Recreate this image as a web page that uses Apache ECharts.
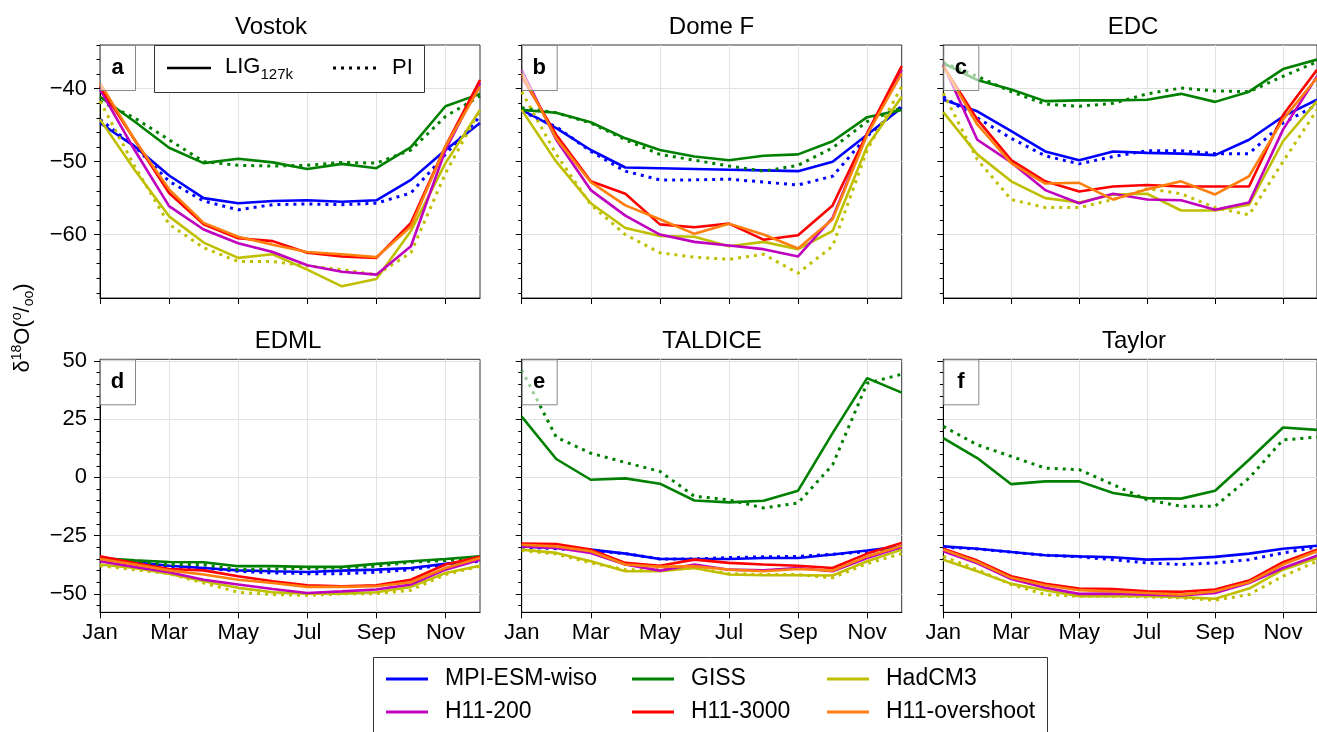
<!DOCTYPE html>
<html>
<head>
<meta charset="utf-8">
<script src="https://cdn.jsdelivr.net/npm/echarts@6/dist/echarts.min.js"></script>
<style>html,body{margin:0;padding:0;background:#fff;}#chart{width:1317px;height:732px;}</style>
</head>
<body>
<div id="chart"></div>
<script>
const months = ['Jan','Feb','Mar','Apr','May','Jun','Jul','Aug','Sep','Oct','Nov','Dec'];
const models = ['MPI-ESM-wiso','GISS','HadCM3','H11-200','H11-3000','H11-overshoot'];
const piModels = ['MPI-ESM-wiso','GISS','HadCM3'];
const stations = ['Vostok','Dome F','EDC','EDML','TALDICE','Taylor'];
const panelLetters = ['a','b','c','d','e','f'];
const topMajorTicks = [-60,-50,-40];
const topMinorTicks = [-68,-66,-64,-62,-60,-58,-56,-54,-52,-50,-48,-46,-44,-42,-40,-38,-36,-34];
const bottomMajorTicks = [-50,-25,0,25,50];
const bottomMinorTicks = [-55,-50,-45,-40,-35,-30,-25,-20,-15,-10,-5,0,5,10,15,20,25,30,35,40,45,50];

// Vostok
const vostokLIG_MPI  = [-44.7,-47.9,-51.9,-55.0,-55.7,-55.4,-55.3,-55.5,-55.3,-52.5,-48.4,-44.7];
const vostokLIG_GISS = [-41.1,-44.5,-48.1,-50.2,-49.6,-50.1,-51.0,-50.3,-50.9,-48.0,-42.4,-40.7];
const vostokLIG_Had  = [-44.2,-51.1,-57.5,-61.1,-63.2,-62.7,-64.8,-67.1,-66.1,-59.5,-50.2,-42.9];
const vostokLIG_H200 = [-40.1,-48.4,-56.1,-59.3,-61.2,-62.4,-64.2,-65.1,-65.5,-61.6,-48.4,-39.2];
const vostokLIG_H3000= [-39.7,-47.0,-54.3,-58.6,-60.5,-60.9,-62.5,-63.0,-63.2,-58.4,-47.9,-38.8];
const vostokLIG_Hover= [-39.2,-47.0,-53.8,-58.4,-60.3,-61.4,-62.4,-62.7,-63.1,-58.9,-47.9,-39.7];
const vostokPI_MPI   = [-44.2,-47.9,-52.7,-55.4,-56.6,-55.9,-55.8,-55.9,-55.7,-54.3,-49.0,-43.8];
const vostokPI_GISS  = [-41.7,-44.0,-47.0,-50.0,-50.5,-50.6,-50.5,-50.1,-50.2,-48.4,-43.8,-41.0];
const vostokPI_Had   = [-41.7,-50.6,-58.6,-61.8,-63.7,-63.7,-64.3,-64.8,-65.5,-62.5,-51.6,-42.9];
// Dome F
const domefLIG_MPI  = [-42.9,-45.4,-48.4,-50.8,-50.9,-51.0,-51.1,-51.2,-51.3,-50.0,-46.3,-42.6];
const domefLIG_GISS = [-42.9,-43.3,-44.6,-46.8,-48.4,-49.3,-49.8,-49.2,-49.0,-47.2,-43.9,-42.9];
const domefLIG_Had  = [-42.9,-50.0,-55.7,-59.1,-60.2,-60.3,-61.6,-61.0,-62.0,-59.5,-47.9,-41.1];
const domefLIG_H200 = [-37.4,-47.0,-53.9,-57.4,-60.0,-61.0,-61.5,-62.0,-63.0,-57.7,-46.1,-37.4];
const domefLIG_H3000= [-38.3,-46.3,-52.7,-54.4,-58.6,-59.0,-58.5,-60.7,-60.1,-56.0,-46.1,-36.9];
const domefLIG_Hover= [-37.9,-46.8,-52.8,-56.0,-57.9,-59.9,-58.5,-60.0,-61.9,-57.9,-46.3,-37.9];
const domefPI_MPI   = [-43.1,-45.2,-48.6,-51.3,-52.5,-52.5,-52.4,-52.8,-53.2,-52.0,-46.5,-42.4];
const domefPI_GISS  = [-42.6,-43.3,-44.7,-47.0,-49.0,-49.8,-50.6,-51.3,-50.5,-48.1,-44.5,-42.6];
const domefPI_Had   = [-40.4,-49.0,-55.9,-60.0,-62.5,-63.1,-63.4,-62.7,-65.3,-61.6,-48.4,-39.7];
// EDC
const edcLIG_MPI  = [-41.5,-43.1,-45.8,-48.6,-49.8,-48.6,-48.8,-48.9,-49.1,-47.0,-43.8,-41.5];
const edcLIG_GISS = [-36.5,-38.8,-40.1,-41.7,-41.6,-41.6,-41.5,-40.7,-41.8,-40.4,-37.3,-36.0];
const edcLIG_Had  = [-43.2,-49.0,-52.7,-55.0,-55.6,-54.5,-54.4,-56.7,-56.7,-55.9,-47.2,-41.7];
const edcLIG_H200 = [-36.7,-47.0,-50.1,-53.9,-55.7,-54.4,-55.2,-55.3,-56.6,-55.6,-45.6,-38.3];
const edcLIG_H3000= [-36.9,-44.2,-49.8,-52.7,-54.1,-53.4,-53.2,-53.4,-53.4,-53.4,-43.6,-37.4];
const edcLIG_Hover= [-36.9,-44.9,-50.2,-53.0,-52.9,-55.2,-53.8,-52.7,-54.5,-52.0,-44.2,-38.5];
const edcPI_MPI   = [-41.1,-44.0,-46.8,-49.2,-50.3,-49.3,-48.5,-48.5,-48.9,-48.9,-44.7,-42.2];
const edcPI_GISS  = [-36.4,-38.3,-40.4,-42.1,-42.4,-42.0,-40.7,-39.9,-40.3,-40.4,-38.3,-36.3];
const edcPI_Had   = [-40.6,-49.7,-55.2,-56.3,-56.3,-55.2,-53.7,-54.4,-56.3,-57.3,-50.0,-42.9];
// EDML
const edmlLIG_MPI  = [-34.6,-36.4,-37.9,-38.9,-39.9,-40.3,-40.6,-40.0,-39.6,-38.9,-37.1,-35.3];
const edmlLIG_GISS = [-34.6,-35.6,-36.3,-36.4,-38.1,-38.1,-38.4,-38.4,-37.1,-36.0,-35.0,-33.9];
const edmlLIG_Had  = [-37.4,-38.9,-41.3,-44.6,-47.4,-49.3,-49.9,-49.9,-49.3,-47.0,-41.0,-37.9];
const edmlLIG_H200 = [-36.0,-38.4,-40.7,-43.9,-46.0,-47.9,-49.6,-48.9,-48.1,-46.0,-39.6,-35.3];
const edmlLIG_H3000= [-33.9,-36.7,-39.3,-39.9,-42.4,-44.6,-46.3,-46.7,-46.3,-43.9,-37.4,-34.1];
const edmlLIG_Hover= [-35.0,-37.4,-39.9,-41.7,-43.9,-45.3,-47.0,-47.0,-46.7,-45.0,-38.9,-34.6];
const edmlPI_MPI   = [-35.0,-36.7,-38.4,-38.9,-40.3,-41.0,-41.3,-41.3,-40.7,-39.6,-37.4,-36.0];
const edmlPI_GISS  = [-35.0,-36.4,-37.4,-37.4,-39.6,-39.3,-39.1,-38.9,-38.1,-36.4,-35.7,-34.1];
const edmlPI_Had   = [-37.9,-39.6,-41.3,-45.3,-49.3,-50.3,-50.6,-50.0,-49.9,-48.4,-41.7,-38.1];
// TALDICE
const talLIG_MPI  = [-29.6,-30.3,-31.0,-32.7,-35.0,-35.0,-35.0,-34.6,-34.6,-33.1,-31.4,-29.6];
const talLIG_GISS = [26.1,7.9,-1.0,-0.4,-2.7,-9.9,-10.7,-10.0,-5.7,19.0,42.6,36.4];
const talLIG_Had  = [-31.0,-32.4,-36.0,-40.3,-40.3,-38.9,-41.7,-42.0,-42.0,-42.1,-36.0,-31.0];
const talLIG_H200 = [-29.6,-30.3,-32.4,-37.4,-40.0,-37.4,-39.6,-39.9,-38.9,-40.3,-34.6,-29.9];
const talLIG_H3000= [-28.4,-28.6,-31.0,-36.7,-37.9,-35.3,-36.7,-37.4,-37.9,-38.9,-32.7,-28.1];
const talLIG_Hover= [-28.9,-29.6,-31.7,-37.4,-38.4,-38.1,-39.6,-40.3,-39.3,-40.0,-33.9,-29.3];
const talPI_MPI   = [-29.9,-30.6,-31.4,-32.7,-35.0,-35.0,-34.4,-34.1,-33.9,-33.0,-31.9,-30.1];
const talPI_GISS  = [46.1,17.3,10.4,6.4,2.6,-8.1,-9.6,-13.1,-11.0,5.4,40.4,44.3];
const talPI_Had   = [-31.4,-32.9,-36.7,-39.6,-39.6,-38.9,-41.3,-41.7,-41.7,-43.1,-37.0,-32.7];
// Taylor
const taylorLIG_MPI  = [-29.6,-30.6,-32.0,-33.4,-33.9,-34.3,-35.3,-34.9,-34.1,-32.7,-30.6,-29.3];
const taylorLIG_GISS = [16.9,8.3,-2.9,-1.7,-1.7,-6.7,-8.9,-9.1,-5.7,7.6,21.4,20.4];
const taylorLIG_Had  = [-35.3,-40.3,-45.7,-48.4,-51.0,-51.0,-51.0,-51.4,-52.1,-47.7,-39.6,-34.6];
const taylorLIG_H200 = [-31.7,-36.9,-43.6,-47.4,-50.0,-49.9,-50.3,-50.7,-49.6,-45.3,-38.9,-33.6];
const taylorLIG_H3000= [-30.6,-35.7,-42.4,-45.7,-47.7,-47.9,-48.9,-49.1,-48.1,-44.3,-36.4,-31.0];
const taylorLIG_Hover= [-31.0,-36.3,-43.1,-46.3,-48.4,-48.9,-49.6,-50.3,-48.9,-45.0,-37.4,-31.7];
const taylorPI_MPI   = [-29.9,-30.7,-32.1,-33.4,-34.1,-35.3,-36.7,-37.4,-36.7,-35.3,-32.4,-29.9];
const taylorPI_GISS  = [21.9,14.0,9.0,4.0,3.3,-3.1,-9.6,-12.4,-12.4,-0.3,16.1,17.3];
const taylorPI_Had   = [-33.9,-39.6,-46.0,-50.3,-51.0,-51.0,-51.3,-51.7,-52.7,-50.3,-42.4,-36.0];

const ligData = [
  [vostokLIG_MPI, vostokLIG_GISS, vostokLIG_Had, vostokLIG_H200, vostokLIG_H3000, vostokLIG_Hover],
  [domefLIG_MPI, domefLIG_GISS, domefLIG_Had, domefLIG_H200, domefLIG_H3000, domefLIG_Hover],
  [edcLIG_MPI, edcLIG_GISS, edcLIG_Had, edcLIG_H200, edcLIG_H3000, edcLIG_Hover],
  [edmlLIG_MPI, edmlLIG_GISS, edmlLIG_Had, edmlLIG_H200, edmlLIG_H3000, edmlLIG_Hover],
  [talLIG_MPI, talLIG_GISS, talLIG_Had, talLIG_H200, talLIG_H3000, talLIG_Hover],
  [taylorLIG_MPI, taylorLIG_GISS, taylorLIG_Had, taylorLIG_H200, taylorLIG_H3000, taylorLIG_Hover]
];
const piData = [
  [vostokPI_MPI, vostokPI_GISS, vostokPI_Had],
  [domefPI_MPI, domefPI_GISS, domefPI_Had],
  [edcPI_MPI, edcPI_GISS, edcPI_Had],
  [edmlPI_MPI, edmlPI_GISS, edmlPI_Had],
  [talPI_MPI, talPI_GISS, talPI_Had],
  [taylorPI_MPI, taylorPI_GISS, taylorPI_Had]
];

const colors = ['#0000ff','#008000','#bfbf00','#bf00bf','#ff0000','#ff7f0e'];
const FONT = '"Liberation Sans", Arial, Helvetica, sans-serif';
const lefts = [100, 521.7, 943.3];
const tops = [45, 359.3];
const W = 380, H = 253;
const yRanges = [[-68.7, -34], [-57.9, 50.7]];
const titleX = [271, 711.5, 1133, 288, 712, 1134];
const titleY = [27, 341];
const minusFmt = v => (v < 0 ? '\u2212' + Math.abs(v) : String(v));

const grid = [], xAxis = [], yAxis = [], series = [], graphic = [];
for (let p = 0; p < 6; p++) {
  const row = Math.floor(p / 3), col = p % 3;
  grid.push({left: lefts[col], top: tops[row], width: W, height: H, show: true,
    borderColor: '#333', borderWidth: 1, backgroundColor: 'rgba(0,0,0,0)'});
  xAxis.push({type: 'category', gridIndex: p, data: months, boundaryGap: false,
    axisLine: {show: true, onZero: false, lineStyle: {color: '#000', width: 1}},
    axisTick: {show: true, interval: 1, length: 6, lineStyle: {color: '#000', width: 1}},
    axisLabel: {show: row === 1, interval: 1, fontSize: 22, color: '#000', fontFamily: FONT, margin: 10},
    splitLine: {show: true, interval: 1, lineStyle: {color: '#e2e2e2', width: 1}}});
  const major = row === 0 ? topMajorTicks : bottomMajorTicks;
  const minor = row === 0 ? topMinorTicks : bottomMinorTicks;
  yAxis.push({type: 'value', gridIndex: p, position: 'left', min: yRanges[row][0], max: yRanges[row][1],
    axisLine: {show: true, onZero: false, lineStyle: {color: '#000', width: 1}},
    axisTick: {show: true, length: 6, customValues: major, lineStyle: {color: '#000', width: 1}},
    axisLabel: {show: col === 0, customValues: major, formatter: minusFmt, fontSize: 22, color: '#000', fontFamily: FONT, margin: 13},
    splitLine: {show: true, lineStyle: {color: '#e2e2e2', width: 1}}});
  yAxis.push({type: 'value', gridIndex: p, position: 'left', min: yRanges[row][0], max: yRanges[row][1],
    axisLine: {show: false},
    axisTick: {show: true, length: 3.5, customValues: minor, lineStyle: {color: '#000', width: 1}},
    axisLabel: {show: false},
    splitLine: {show: false}});
  for (let m = 0; m < 3; m++) {
    series.push({type: 'line', name: models[m], xAxisIndex: p, yAxisIndex: 2 * p, data: ligData[p][m],
      symbol: 'none', z: 2, lineStyle: {color: colors[m], width: 2.6}, itemStyle: {color: colors[m]}});
    series.push({type: 'line', name: piModels[m] + ' PI', xAxisIndex: p, yAxisIndex: 2 * p, data: piData[p][m],
      symbol: 'none', z: 2, lineStyle: {color: colors[m], width: 3, type: [3, 5]}, itemStyle: {color: colors[m]}});
  }
  for (let m = 3; m < 6; m++) {
    series.push({type: 'line', name: models[m], xAxisIndex: p, yAxisIndex: 2 * p, data: ligData[p][m],
      symbol: 'none', z: 3, lineStyle: {color: colors[m], width: 2.6}, itemStyle: {color: colors[m]}});
  }
  graphic.push({type: 'text', x: titleX[p], y: titleY[row], z: 100,
    style: {text: stations[p], textAlign: 'center', textVerticalAlign: 'middle', font: '24px ' + FONT, fill: '#000'}});
  graphic.push({type: 'rect', z: 100, shape: {x: lefts[col] + 0.5, y: tops[row] + 0.5, width: 35, height: 45},
    style: {fill: 'rgba(255,255,255,0.6)', stroke: '#888', lineWidth: 1}});
  graphic.push({type: 'text', z: 101, x: lefts[col] + 17.5, y: tops[row] + 22.5,
    style: {text: panelLetters[p], textAlign: 'center', textVerticalAlign: 'middle', font: 'bold 22px ' + FONT, fill: '#000'}});
}

// LIG / PI legend in panel a
graphic.push({type: 'rect', z: 100, shape: {x: 154.5, y: 45.5, width: 270, height: 47},
  style: {fill: '#fff', stroke: '#333', lineWidth: 1}});
graphic.push({type: 'line', z: 101, shape: {x1: 167, y1: 68, x2: 211, y2: 68}, style: {stroke: '#000', lineWidth: 2.5}});
graphic.push({type: 'text', z: 101, x: 225, y: 69,
  style: {text: '{n|LIG}{s|127k}', textVerticalAlign: 'middle', fill: '#000',
    rich: {n: {fontSize: 22, fontFamily: FONT, verticalAlign: 'top', lineHeight: 26}, s: {fontSize: 15, fontFamily: FONT, verticalAlign: 'bottom', lineHeight: 26}}}});
graphic.push({type: 'line', z: 101, shape: {x1: 333, y1: 68, x2: 378, y2: 68}, style: {stroke: '#000', lineWidth: 3, lineDash: [3, 5]}});
graphic.push({type: 'text', z: 101, x: 392, y: 68,
  style: {text: 'PI', textVerticalAlign: 'middle', font: '22px ' + FONT, fill: '#000'}});

// y-axis label
graphic.push({type: 'text', z: 100, x: 23, y: 328, rotation: Math.PI / 2,
  style: {text: '{n|\u03b4}{u|18}{n|O(}{u|o}{n|/}{d|oo}{n|)}', textAlign: 'center', textVerticalAlign: 'middle', fill: '#000',
    rich: {n: {fontSize: 22, fontFamily: FONT, lineHeight: 26, verticalAlign: 'middle'},
           u: {fontSize: 14, fontFamily: FONT, lineHeight: 26, verticalAlign: 'top'},
           d: {fontSize: 14, fontFamily: FONT, lineHeight: 26, verticalAlign: 'bottom'}}}});

// bottom legend frame
graphic.push({type: 'rect', z: 1, shape: {x: 373.5, y: 657.5, width: 674, height: 80},
  style: {fill: '#fff', stroke: '#333', lineWidth: 1}});

const legendCommon = {orient: 'vertical', top: 667.5, padding: 0, height: 62, itemWidth: 42, itemHeight: 3, icon: 'rect', itemGap: 10,
  selectedMode: false, z: 5,
  textStyle: {fontSize: 23, lineHeight: 23, color: '#000', fontFamily: FONT, padding: [0, 0, 0, 12]}};
const legend = [
  Object.assign({}, legendCommon, {left: 386, data: ['MPI-ESM-wiso', 'H11-200']}),
  Object.assign({}, legendCommon, {left: 632, data: ['GISS', 'H11-3000']}),
  Object.assign({}, legendCommon, {left: 827, data: ['HadCM3', 'H11-overshoot']})
];

const chart = echarts.init(document.getElementById('chart'), null, {renderer: 'canvas'});
chart.setOption({animation: false, backgroundColor: '#fff', grid, xAxis, yAxis, series, graphic, legend});
</script>
</body>
</html>
